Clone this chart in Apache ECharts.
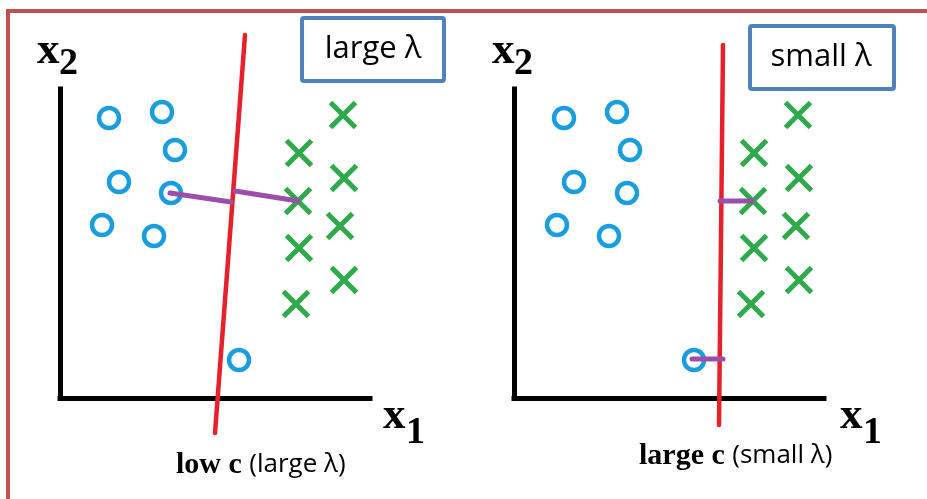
<!DOCTYPE html>
<html>
<head>
<meta charset="utf-8">
<script src="https://cdn.jsdelivr.net/npm/echarts@6/dist/echarts.min.js"></script>
<style>
html,body{margin:0;padding:0;background:#fff;}
#chart{width:927px;height:499px;}
</style>
</head>
<body>
<div id="chart"></div>
<script>
// Left panel (large λ / low c)
var leftCircles = [[4.9,28.0],[10.2,28.6],[11.5,24.8],[5.9,21.6],[11.1,20.5],[4.2,17.3],[9.4,16.2],[17.9,3.8]];
var leftCrosses = [[28.3,28.3],[23.9,24.5],[28.4,22.0],[23.8,19.7],[28.0,17.2],[23.9,15.0],[28.4,11.8],[23.6,9.4]];
var leftBoundary = [[18.5,36.3],[15.5,-3.5]];
var leftMargin1 = [[11.0,20.5],[17.1,19.6]];
var leftMargin2 = [[17.5,20.7],[23.8,19.7]];

// Right panel (small λ / large c)
var rightCircles = [[5.0,28.0],[10.3,28.6],[11.6,24.8],[6.0,21.6],[11.3,20.5],[4.3,17.3],[9.5,16.2],[18.0,3.8]];
var rightCrosses = [[28.4,28.3],[24.0,24.5],[28.5,22.0],[23.9,19.7],[28.2,17.2],[24.0,15.0],[28.5,11.8],[23.7,9.4]];
var rightBoundary = [[20.9,35.3],[20.7,16.0],[20.5,-2.7]];
var rightMargin1 = [[20.6,19.7],[23.8,19.7]];
var rightMargin2 = [[17.8,3.9],[20.9,3.9]];

// Text
var boxLabels = ['large λ', 'small λ'];
var captionBold = ['low c', 'large c'];
var captionSans = ['(large λ)', '(small λ)'];

var BLUE = '#1a9de0', GREEN = '#2eaa4a', RED = '#e8202a', PURPLE = '#9b4fa8';
var crossPath = 'path://M0,0L10,10M10,0L0,10';

function axisX(gi){
  return {type:'value', gridIndex:gi, min:0, max:31, axisLine:{onZero:false, lineStyle:{color:'#000', width:5, cap:'square'}},
    axisTick:{show:false}, axisLabel:{show:false}, splitLine:{show:false}};
}
function axisY(gi){
  return {type:'value', gridIndex:gi, min:0, max:30.9, axisLine:{onZero:false, lineStyle:{color:'#000', width:5, cap:'square'}},
    axisTick:{show:false}, axisLabel:{show:false}, splitLine:{show:false}};
}
function circles(gi, data){
  return {type:'scatter', xAxisIndex:gi, yAxisIndex:gi, data:data, symbol:'circle', symbolSize:20,
    itemStyle:{color:'rgba(255,255,255,0)', borderColor:BLUE, borderWidth:4.5, opacity:1}, z:3, silent:true};
}
function crosses(gi, data){
  return {type:'scatter', xAxisIndex:gi, yAxisIndex:gi, data:data, symbol:crossPath, symbolSize:25,
    itemStyle:{color:'rgba(0,0,0,0)', borderColor:GREEN, borderWidth:5, opacity:1}, z:3, silent:true};
}
function seg(gi, data, color, w, z){
  return {type:'line', xAxisIndex:gi, yAxisIndex:gi, data:data, symbol:'none', clip:false, silent:true,
    lineStyle:{color:color, width:w, cap:'round'}, z:z};
}

function axisTitle(x, y, sub, subDx, subDy){
  return [
    {type:'text', left:x, top:y, style:{text:'x', font:'bold 45px "Liberation Serif"', fill:'#000'}},
    {type:'text', left:x+subDx, top:y+subDy, style:{text:sub, font:'bold 38px "Liberation Serif"', fill:'#000'}}
  ];
}
function caption(x, y, i){
  return {type:'text', left:x, top:y, style:{
    text:'{a|'+captionBold[i]+' }{b|'+captionSans[i]+'}',
    rich:{a:{font:'bold 30px "Liberation Serif"', fill:'#000'}, b:{font:'26px "Open Sans"', fill:'#000'}}
  }};
}

var graphics = [
  {type:'rect', shape:{x:8, y:11, width:1000, height:600}, style:{fill:'none', stroke:'#c0504d', lineWidth:4}, z:0},
  {type:'rect', shape:{x:302, y:18, width:142, height:63, r:2}, style:{fill:'#fff', stroke:'#4f81bd', lineWidth:4}},
  {type:'text', x:373, y:49, style:{text:boxLabels[0], font:'31px "Open Sans"', fill:'#000', align:'center', verticalAlign:'middle'}},
  {type:'rect', shape:{x:750, y:26, width:144, height:63, r:2}, style:{fill:'#fff', stroke:'#4f81bd', lineWidth:4}},
  {type:'text', x:821, y:57, style:{text:boxLabels[1], font:'31px "Open Sans"', fill:'#000', align:'center', verticalAlign:'middle'}},
  caption(176, 450, 0),
  caption(639, 441, 1)
].concat(axisTitle(37, 29, '2', 22, 16)).concat(axisTitle(492, 29, '2', 22, 16))
 .concat(axisTitle(383, 394, '1', 23, 20)).concat(axisTitle(840, 394, '1', 23, 20));

var option = {
  animation:false,
  backgroundColor:'#fff',
  grid:[{left:60, top:89, width:310, height:309}, {left:514, top:89, width:310, height:309}],
  xAxis:[axisX(0), axisX(1)],
  yAxis:[axisY(0), axisY(1)],
  series:[
    seg(0, leftBoundary, RED, 4.5, 2),
    circles(0, leftCircles),
    crosses(0, leftCrosses),
    seg(0, leftMargin1, PURPLE, 5, 4),
    seg(0, leftMargin2, PURPLE, 5, 4),
    seg(1, rightBoundary, RED, 4.5, 2),
    circles(1, rightCircles),
    crosses(1, rightCrosses),
    seg(1, rightMargin1, PURPLE, 5, 4),
    seg(1, rightMargin2, PURPLE, 5, 4)
  ],
  graphic:graphics
};

var chart = echarts.init(document.getElementById('chart'), null, {renderer:'canvas'});
chart.setOption(option);
</script>
</body>
</html>
